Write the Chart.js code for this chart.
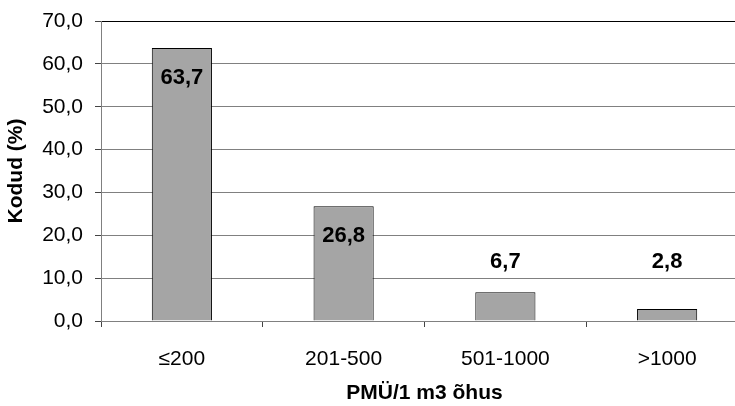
<!DOCTYPE html>
<html>
<head>
<meta charset="utf-8">
<script src="https://cdn.jsdelivr.net/npm/chart.js@4.4.0/dist/chart.umd.min.js"></script>
<style>
    html, body { margin: 0; padding: 0; overflow: hidden; background: #fff; }
    #wrap { width: 750px; height: 406px; }
</style>
</head>
<body>
<div id="wrap"><canvas id="chart" width="750" height="406"></canvas></div>
<script>
// Chart data
const categories = ['\u2264200', '201-500', '501-1000', '>1000'];
const shares = [63.7, 26.8, 6.7, 2.8];
const yTicks = [0, 10, 20, 30, 40, 50, 60, 70];

const FONT = "'Liberation Sans', Arial, sans-serif";

function fmt(v) {
    return v.toFixed(1).replace('.', ',');
}

// Draws the value labels (inside the tall bars, above the short ones)
const valueLabels = {
    id: 'valueLabels',
    afterDatasetsDraw(chart) {
        const ctx = chart.ctx;
        const yScale = chart.scales.y;
        const meta = chart.getDatasetMeta(0);
        const floor = yScale.getPixelForValue(13.8);
        ctx.save();
        ctx.font = 'bold 22px ' + FONT;
        ctx.fillStyle = '#000';
        ctx.textAlign = 'center';
        ctx.textBaseline = 'middle';
        meta.data.forEach((bar, i) => {
            const y = Math.min(bar.y + 30, floor);
            ctx.fillText(fmt(shares[i]), bar.x, y);
        });
        ctx.restore();
    }
};

new Chart(document.getElementById('chart'), {
    type: 'bar',
    data: {
        labels: categories,
        datasets: [{
            data: shares,
            backgroundColor: '#a5a5a5',
            borderColor: '#000',
            borderWidth: 1,
            barPercentage: 0.372,
            categoryPercentage: 1
        }]
    },
    options: {
        responsive: false,
        animation: false,
        layout: { padding: { top: 21, right: 2, left: 0, bottom: 0 } },
        plugins: {
            legend: { display: false },
            tooltip: { enabled: false }
        },
        scales: {
            x: {
                grid: {
                    offset: true,
                    drawOnChartArea: false,
                    color: '#444',
                    tickLength: 6
                },
                border: { color: '#808080' },
                ticks: {
                    color: '#000',
                    font: { family: FONT, size: 21 },
                    padding: 20
                },
                title: {
                    display: true,
                    text: 'PMÜ/1 m3 õhus',
                    color: '#000',
                    font: { family: FONT, size: 21, weight: 'bold' },
                    padding: { top: 4, bottom: 0 }
                },
                afterFit(scale) { scale.height = 85; }
            },
            y: {
                min: 0,
                max: 70,
                afterBuildTicks(scale) {
                    scale.ticks = yTicks.map(v => ({ value: v }));
                },
                grid: {
                    color: ctx => (ctx.tick && ctx.tick.value === 70 ? '#000' : '#808080'),
                    tickLength: 6,
                    tickColor: '#444'
                },
                border: { color: '#808080' },
                ticks: {
                    color: '#000',
                    font: { family: FONT, size: 21 },
                    padding: 12,
                    callback: v => fmt(v)
                },
                title: {
                    display: true,
                    text: 'Kodud (%)',
                    color: '#000',
                    font: { family: FONT, size: 21, weight: 'bold' },
                    padding: { top: 4, bottom: 4 }
                },
                afterFit(scale) {
                    scale.width = 101;
                    scale.paddingTop = 0;
                    scale.paddingBottom = 0;
                }
            }
        }
    },
    plugins: [valueLabels]
});
</script>
</body>
</html>
